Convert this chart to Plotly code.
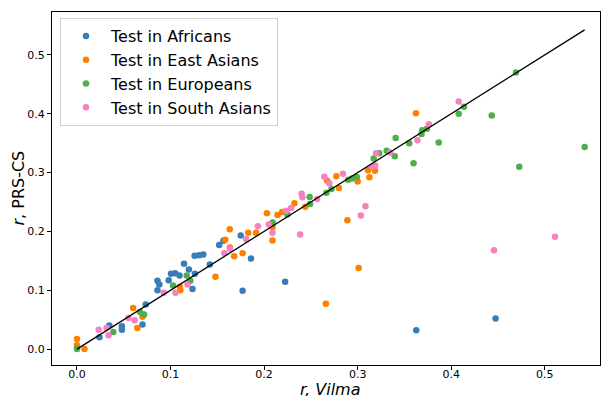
import plotly.graph_objects as go

# ---- data ----
afr_x = [0.024, 0.0345, 0.048, 0.048, 0.070, 0.0735, 0.086, 0.088, 0.086, 0.098, 0.1005, 0.105, 0.1096,
         0.1144, 0.1196, 0.1235, 0.126, 0.1257, 0.1305, 0.135, 0.142, 0.152, 0.1565, 0.175, 0.186,
         0.177, 0.2225, 0.3626, 0.4474]
afr_y = [0.020, 0.040, 0.039, 0.033, 0.042, 0.076, 0.116, 0.110, 0.100, 0.117, 0.128, 0.129, 0.125,
         0.145, 0.1355, 0.102, 0.128, 0.1585, 0.1595, 0.161, 0.144, 0.177, 0.184, 0.193, 0.154,
         0.099, 0.1145, 0.032, 0.052]

eas_x = [0.0, 0.0, 0.008, 0.060, 0.0645, 0.070, 0.110, 0.1105, 0.148, 0.1585, 0.1633, 0.1634, 0.168,
         0.177, 0.183, 0.1914, 0.203, 0.209, 0.209, 0.2144, 0.2193, 0.2324, 0.244, 0.266, 0.2772,
         0.2674, 0.280, 0.289, 0.300, 0.301, 0.311, 0.3185, 0.3126, 0.3622]
eas_y = [0.017, 0.0065, 0.0, 0.070, 0.036, 0.055, 0.106, 0.100, 0.123, 0.186, 0.2036, 0.1726, 0.158,
         0.163, 0.198, 0.198, 0.231, 0.1845, 0.2075, 0.228, 0.233, 0.248, 0.242, 0.077, 0.294,
         0.286, 0.274, 0.219, 0.285, 0.138, 0.304, 0.303, 0.292, 0.401]

eur_x = [0.0, 0.0388, 0.0674, 0.0717, 0.1027, 0.1173, 0.1211, 0.2091, 0.2249, 0.2487, 0.2492, 0.2666,
         0.272, 0.2898, 0.2941, 0.2991, 0.3171, 0.323, 0.331, 0.3406, 0.3396, 0.3551, 0.3597, 0.3682,
         0.369, 0.374, 0.3866, 0.408, 0.4136, 0.4433, 0.4692, 0.4727, 0.5426]
eur_y = [0.0, 0.029, 0.063, 0.059, 0.108, 0.125, 0.116, 0.215, 0.229, 0.2585, 0.2466, 0.2656,
         0.272, 0.288, 0.290, 0.2925, 0.324, 0.333, 0.337, 0.359, 0.328, 0.350, 0.316, 0.3656,
         0.372, 0.3745, 0.351, 0.400, 0.412, 0.397, 0.470, 0.310, 0.3435]

sas_x = [0.0232, 0.0316, 0.0337, 0.0551, 0.0617, 0.0927, 0.1053, 0.1182, 0.1575, 0.1636, 0.1807, 0.1933,
         0.205, 0.2089, 0.2235, 0.2289, 0.2401, 0.2409, 0.2385, 0.2567, 0.2644, 0.2697, 0.2842, 0.3034,
         0.3083, 0.3155, 0.3187, 0.3196, 0.3348, 0.3639, 0.3761, 0.408, 0.4457, 0.5109]
sas_y = [0.033, 0.036, 0.0235, 0.053, 0.049, 0.096, 0.096, 0.110, 0.163, 0.170, 0.187, 0.209,
         0.212, 0.198, 0.235, 0.240, 0.264, 0.258, 0.195, 0.255, 0.293, 0.282, 0.298, 0.227,
         0.243, 0.310, 0.312, 0.333, 0.334, 0.355, 0.382, 0.421, 0.168, 0.191]

series = [
    ("Test in Africans", afr_x, afr_y, "#377eb8"),
    ("Test in East Asians", eas_x, eas_y, "#ff7f00"),
    ("Test in Europeans", eur_x, eur_y, "#4daf4a"),
    ("Test in South Asians", sas_x, sas_y, "#f781bf"),
]

x_ticks = [0.0, 0.1, 0.2, 0.3, 0.4, 0.5]
y_ticks = [0.0, 0.1, 0.2, 0.3, 0.4, 0.5]
x_title = "<i>r, Vilma</i>"
y_title = "<i>r</i>, PRS-CS"

fig = go.Figure()
for name, xs, ys, col in series:
    fig.add_trace(go.Scatter(x=xs, y=ys, mode="markers", name=name,
                             marker=dict(color=col, size=6.5, line=dict(width=0))))

all_x = afr_x + eas_x + eur_x + sas_x
mx = max(all_x)
fig.add_trace(go.Scatter(x=[0, mx], y=[0, mx], mode="lines", showlegend=False,
                         line=dict(color="black", width=1.3), hoverinfo="skip"))

font = "DejaVu Sans, Arial, sans-serif"
H_PLOT = 396 - 12 - 31
fig.update_layout(
    width=601, height=396,
    margin=dict(l=52, r=1, t=12, b=31),
    plot_bgcolor="white", paper_bgcolor="white",
    font=dict(family=font, color="black", size=11),
    legend=dict(x=0.0146, y=0.983, xanchor="left", yanchor="top",
                bgcolor="rgba(255,255,255,0.8)", bordercolor="#d0d0d0", borderwidth=1,
                font=dict(size=16, family=font), itemwidth=40, tracegroupgap=0),
    xaxis=dict(range=[-0.0267, 0.559], tickvals=x_ticks, ticktext=[f"{v:.1f}" for v in x_ticks],
               showgrid=False, zeroline=False, showline=True, linecolor="black", linewidth=1,
               mirror=True, ticks="outside", ticklen=4, tickcolor="black", automargin=False,
               tickfont=dict(size=11), ticklabelstandoff=-5),
    yaxis=dict(range=[-0.027, 0.573], tickvals=y_ticks, ticktext=[f"{v:.1f}" for v in y_ticks],
               showgrid=False, zeroline=False, showline=True, linecolor="black", linewidth=1,
               mirror=True, ticks="outside", ticklen=4, tickcolor="black", automargin=False,
               tickfont=dict(size=11)),
    annotations=[
        dict(text=x_title, xref="paper", yref="paper", x=(330 - 52) / 548,
             y=-(389 - 365) / H_PLOT,
             xanchor="center", yanchor="middle", showarrow=False, font=dict(size=16)),
        dict(text=y_title, xref="paper", yref="paper", x=-(52 - 18) / 548, y=0.5,
             xanchor="center", yanchor="middle", textangle=-90, showarrow=False,
             font=dict(size=16)),
    ],
)

fig.write_html("out.html", config={"displayModeBar": False},
               post_script="document.body.style.margin='0';document.body.style.padding='0';")
